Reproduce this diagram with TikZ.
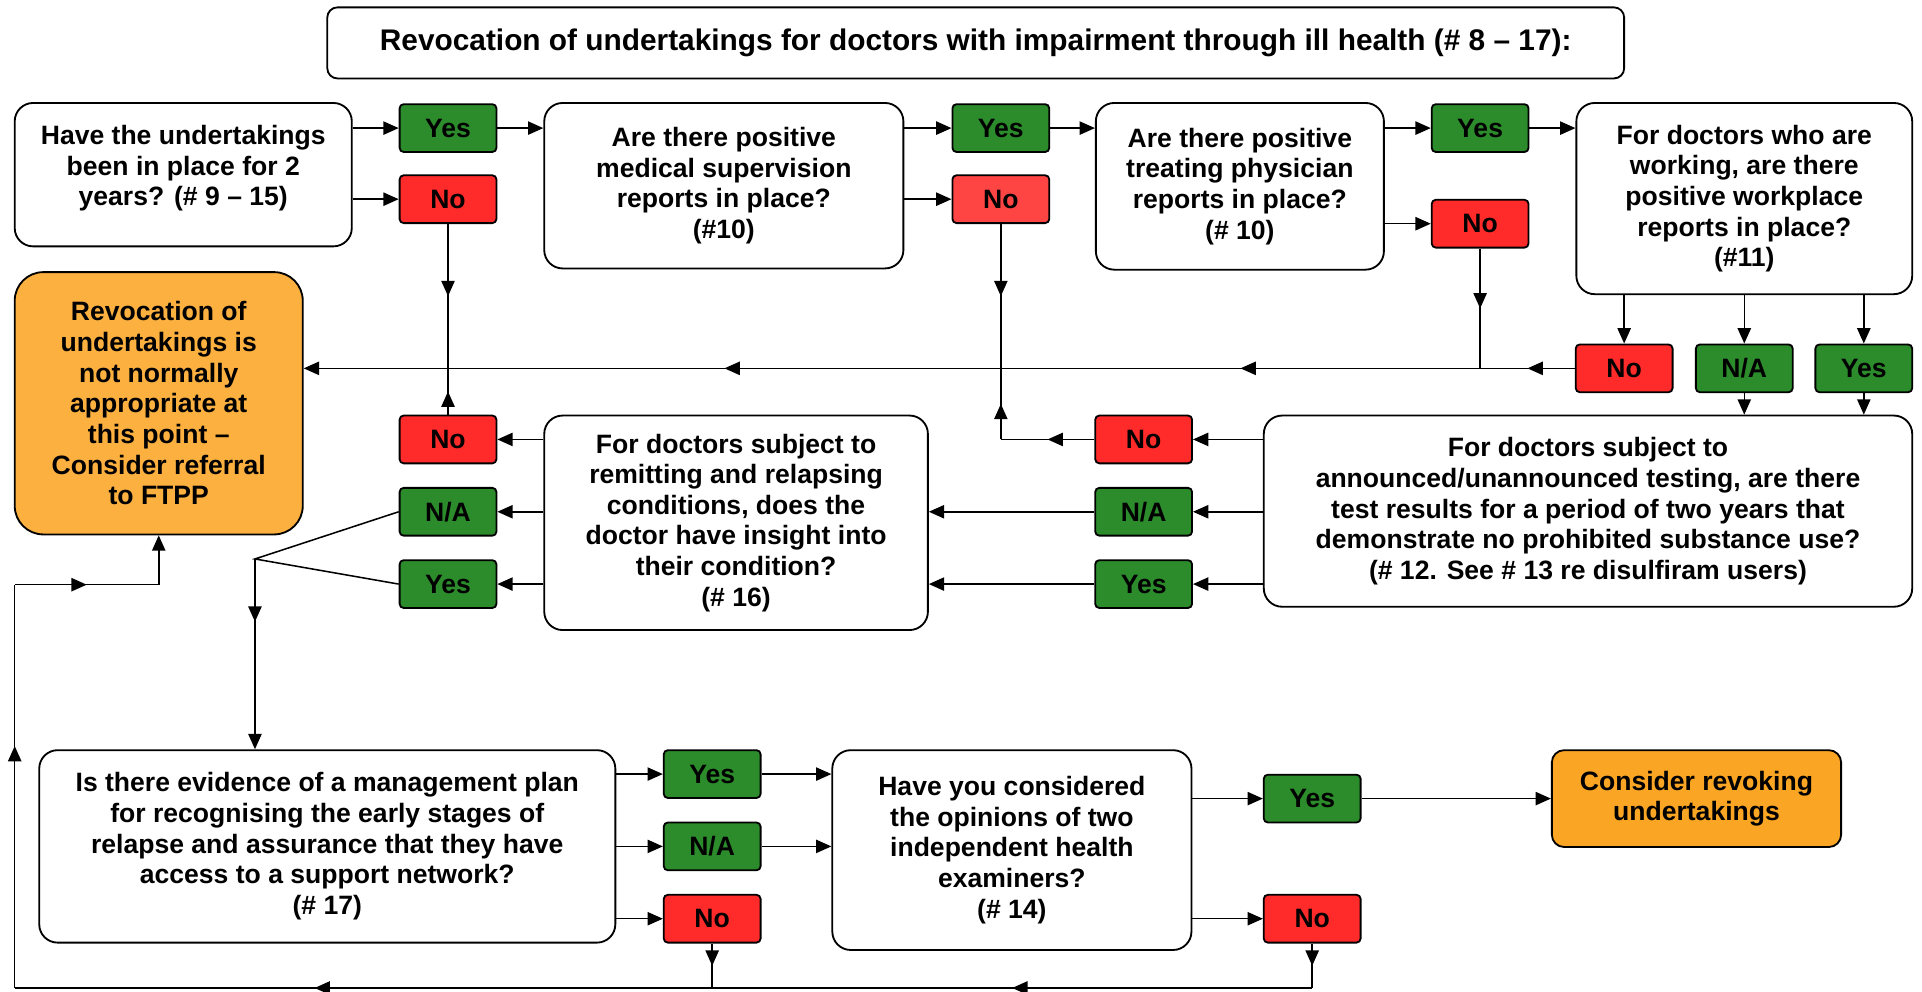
\documentclass[tikz,border=0pt]{standalone}
\usepackage{fontspec}
\setmainfont{Liberation Sans}
\usetikzlibrary{arrows.meta,decorations.markings}
\definecolor{yesgreen}{RGB}{44,140,44}
\definecolor{nored}{RGB}{255,42,42}
\definecolor{nolight}{RGB}{255,68,68}
\definecolor{outorange}{RGB}{251,176,64}
\definecolor{revorange}{RGB}{250,166,36}

\begin{document}
\begin{tikzpicture}[x=0.6pt,y=-0.6pt,
    every node/.style={font=\fontsize{13}{15}\selectfont\bfseries,align=center},
    qbox/.style={draw,line width=0.9pt,rounded corners=9pt,fill=white,inner sep=2pt},
    ans/.style={draw,line width=0.9pt,rounded corners=2pt,minimum width=47.4pt,minimum height=23.4pt,inner sep=0pt},
    ansyes/.style={ans,fill=yesgreen},
    ansno/.style={ans,fill=nored},
    ansna/.style={ans,fill=yesgreen},
    flow/.style={line width=0.75pt,-{Triangle[length=7.5pt,width=6.5pt]}},
    midarr/.style={line width=0.75pt,postaction={decorate},
      decoration={markings,mark=at position #1 with {\arrow{Triangle[length=7.5pt,width=6.5pt]}}}},
    midarr/.default=0.5]
    \useasboundingbox (0,0) rectangle (1568,809);
    % Title
    \node[qbox,rounded corners=5pt,minimum width=634.8pt,minimum height=34.8pt,
      font=\fontsize{14.6}{17}\selectfont\bfseries] (title) at (796,35)
      {Revocation of undertakings for doctors with impairment through ill health (\# 8 – 17):};
    % Top row of questions
    \node[qbox,minimum width=165pt,minimum height=70.2pt] (qtime) at (149.5,142.5)
      {Have the undertakings\\been in place for 2\\years? (\# 9 – 15)\\[-6pt]\mbox{}};
    \node[qbox,minimum width=175.8pt,minimum height=81pt] (qmed) at (590.5,151.5)
      {Are there positive\\medical supervision\\reports in place?\\(\#10)};
    \node[qbox,minimum width=141pt,minimum height=81.6pt] (qtreat) at (1011.5,152)
      {Are there positive\\treating physician\\reports in place?\\(\# 10)};
    \node[qbox,minimum width=164.4pt,minimum height=93.6pt] (qwork) at (1423,162)
      {For doctors who are\\working, are there\\positive workplace\\reports in place?\\(\#11)};
    % Middle row of questions
    \node[qbox,minimum width=317.4pt,minimum height=93.6pt] (qtest) at (1295.5,417)
      {For doctors subject to\\announced/unannounced testing, are there\\test results for a period of two years that\\demonstrate no prohibited substance use?\\(\# 12. See \# 13 re disulfiram users)};
    \node[qbox,minimum width=187.8pt,minimum height=105pt] (qinsight) at (600.5,426.5)
      {For doctors subject to\\remitting and relapsing\\conditions, does the\\doctor have insight into\\their condition?\\(\# 16)};
    % Bottom row of questions
    \node[qbox,minimum width=282pt,minimum height=94.2pt] (qplan) at (267,690.5)
      {Is there evidence of a management plan\\for recognising the early stages of\\relapse and assurance that they have\\access to a support network?\\(\# 17)};
    \node[qbox,minimum width=175.8pt,minimum height=97.8pt] (qexam) at (825.5,693.5)
      {Have you considered\\the opinions of two\\independent health\\examiners?\\(\# 14)};
    % Outcomes
    \node[qbox,fill=outorange,rounded corners=14pt,minimum width=141pt,minimum height=128.4pt] (notrev) at (129.5,329)
      {Revocation of\\undertakings is\\not normally\\appropriate at\\this point –\\Consider referral\\to FTPP};
    \node[qbox,fill=revorange,rounded corners=6pt,minimum width=141.6pt,minimum height=47.4pt] (revoke) at (1384,651.5)
      {Consider revoking\\undertakings};
    % Answers
    \node[ansyes] (yes1) at (365.5,104.5) {Yes};
    \node[ansno]  (no1)  at (365.5,162.5) {No};
    \node[ansyes] (yes2) at (816.5,104.5) {Yes};
    \node[ansno,fill=nolight] (no2) at (816.5,162.5) {No};
    \node[ansyes] (yes3) at (1207.5,104.5) {Yes};
    \node[ansno]  (no3)  at (1207.5,182.5) {No};
    \node[ansno]  (no4)  at (1325,300.5) {No};
    \node[ansna]  (na4)  at (1423,300.5) {N/A};
    \node[ansyes] (yes4) at (1520.5,300.5) {Yes};
    \node[ansno]  (no5)  at (933,358.5) {No};
    \node[ansna]  (na5)  at (933,417.5) {N/A};
    \node[ansyes] (yes5) at (933,476.5) {Yes};
    \node[ansno]  (no6)  at (365.5,358.5) {No};
    \node[ansna]  (na6)  at (365.5,417.5) {N/A};
    \node[ansyes] (yes6) at (365.5,476.5) {Yes};
    \node[ansyes] (yes7) at (581,631.5) {Yes};
    \node[ansna]  (na7)  at (581,690.5) {N/A};
    \node[ansno]  (no7)  at (581,749.5) {No};
    \node[ansyes] (yes8) at (1070.5,651.5) {Yes};
    \node[ansno]  (no8)  at (1070.5,749.5) {No};
    % Junctions
    \coordinate (fork) at (208,456);
    \coordinate (lowy) at (0,806);
    \coordinate (lowleft) at (12,806);
    \coordinate (upleft) at (12,477);
    % Top row connectors
    \draw[flow] (qtime.east |- yes1.west) -- (yes1.west);
    \draw[flow] (qtime.east |- no1.west) -- (no1.west);
    \draw[flow] (yes1.east) -- (yes1.east -| qmed.west);
    \draw[flow] (qmed.east |- yes2.west) -- (yes2.west);
    \draw[flow] (qmed.east |- no2.west) -- (no2.west);
    \draw[flow] (yes2.east) -- (yes2.east -| qtreat.west);
    \draw[flow] (qtreat.east |- yes3.west) -- (yes3.west);
    \draw[flow] (qtreat.east |- no3.west) -- (no3.west);
    \draw[flow] (yes3.east) -- (yes3.east -| qwork.west);
    \draw[flow] (qwork.south -| no4) -- (no4.north);
    \draw[flow] (qwork.south -| na4) -- (na4.north);
    \draw[flow] (qwork.south -| yes4) -- (yes4.north);
    \draw[flow] (na4.south) -- (na4.south |- qtest.north);
    \draw[flow] (yes4.south) -- (yes4.south |- qtest.north);
    % Line to the first outcome
    \draw[midarr] (no4.west) -- (no3.south |- no4.west);
    \draw[midarr] (no3.south |- no4.west) -- (no2.south |- no4.west);
    \draw[midarr] (no2.south |- no4.west) -- (no1.south |- no4.west);
    \draw[flow] (no1.south |- no4.west) -- (notrev.east |- no4.west);
    \draw[midarr] (no3.south) -- (no3.south |- no4.west);
    \draw[midarr] (no2.south) -- (no2.south |- no4.west);
    \draw[midarr] (no1.south) -- (no1.south |- no4.west);
    \draw[midarr] (no5.west) -- (no5.west -| no2.south);
    \draw[midarr] (no5.west -| no2.south) -- (no2.south |- no4.west);
    \draw[midarr] (no6.north) -- (no1.south |- no4.west);
    % Middle row connectors
    \draw[flow] (qtest.west |- no5.east) -- (no5.east);
    \draw[flow] (qtest.west |- na5.east) -- (na5.east);
    \draw[flow] (qtest.west |- yes5.east) -- (yes5.east);
    \draw[flow] (na5.west) -- (na5.west -| qinsight.east);
    \draw[flow] (yes5.west) -- (yes5.west -| qinsight.east);
    \draw[flow] (qinsight.west |- no6.east) -- (no6.east);
    \draw[flow] (qinsight.west |- na6.east) -- (na6.east);
    \draw[flow] (qinsight.west |- yes6.east) -- (yes6.east);
    \draw[line width=0.75pt] (na6.west) -- (fork) -- (yes6.west);
    \draw[midarr=0.33,flow] (fork) -- (fork |- qplan.north);
    % Bottom row connectors
    \draw[flow] (qplan.east |- yes7.west) -- (yes7.west);
    \draw[flow] (qplan.east |- na7.west) -- (na7.west);
    \draw[flow] (qplan.east |- no7.west) -- (no7.west);
    \draw[flow] (yes7.east) -- (yes7.east -| qexam.west);
    \draw[flow] (na7.east) -- (na7.east -| qexam.west);
    \draw[flow] (qexam.east |- yes8.west) -- (yes8.west);
    \draw[flow] (qexam.east |- no8.west) -- (no8.west);
    \draw[flow] (yes8.east) -- (yes8.east -| revoke.west);
    % Return line to the first outcome
    \draw[midarr] (no8.south) -- (no8.south |- lowy);
    \draw[midarr] (no7.south) -- (no7.south |- lowy);
    \draw[midarr] (no8.south |- lowy) -- (no7.south |- lowy);
    \draw[midarr=0.57] (no7.south |- lowy) -- (lowleft);
    \draw[midarr=0.6] (lowleft) -- (upleft);
    \draw[midarr] (upleft) -- (notrev.south |- upleft);
    \draw[flow] (notrev.south |- upleft) -- (notrev.south);
\end{tikzpicture}
\end{document}
